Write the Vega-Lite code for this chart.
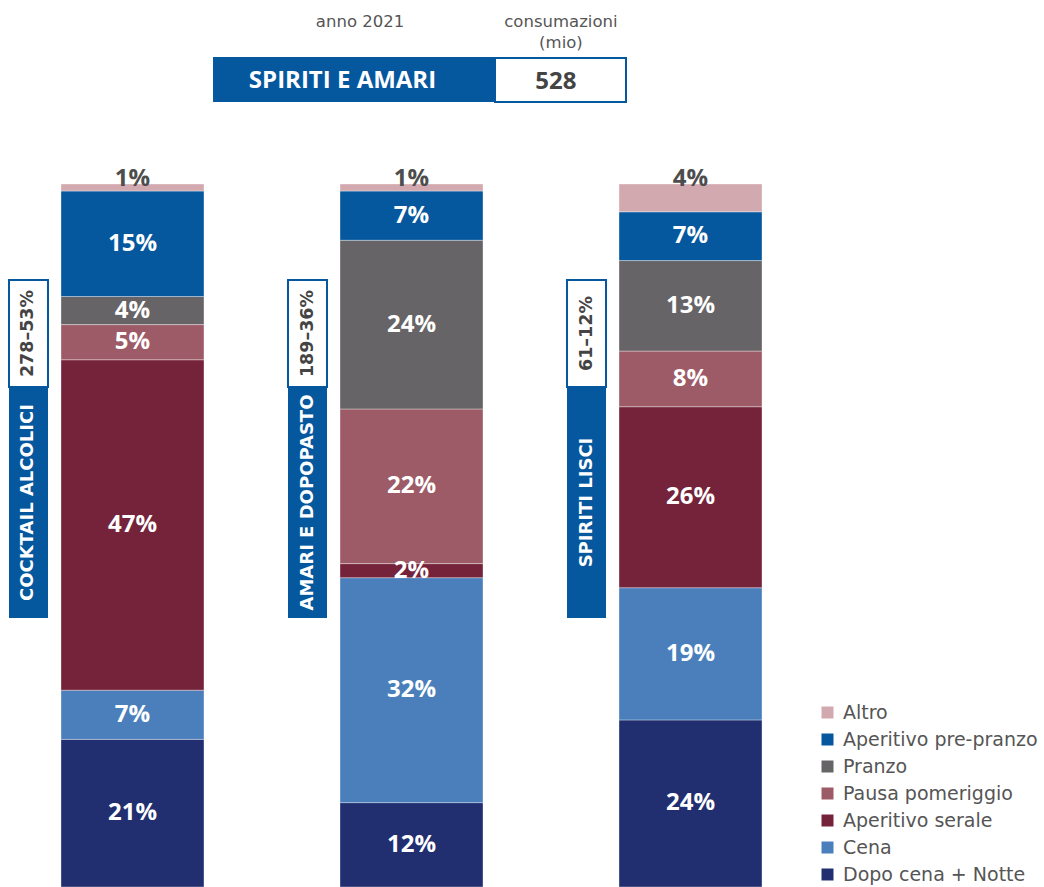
{
  "$schema": "https://vega.github.io/schema/vega-lite/v6.json",
  "autosize": {"type": "none"},
  "padding": {"left": 0, "top": 184, "right": 221, "bottom": 0},
  "width": 823,
  "height": 703,
  "background": "white",
  "config": {"view": {"stroke": null}, "font": "Open Sans"},
  "datasets": {
    "quote": [
      {"cat": "COCKTAIL ALCOLICI", "momento": "Dopo cena + Notte", "ord": 1, "v": 0.21},
      {"cat": "COCKTAIL ALCOLICI", "momento": "Cena", "ord": 2, "v": 0.07},
      {"cat": "COCKTAIL ALCOLICI", "momento": "Aperitivo serale", "ord": 3, "v": 0.47},
      {"cat": "COCKTAIL ALCOLICI", "momento": "Pausa pomeriggio", "ord": 4, "v": 0.05},
      {"cat": "COCKTAIL ALCOLICI", "momento": "Pranzo", "ord": 5, "v": 0.04},
      {"cat": "COCKTAIL ALCOLICI", "momento": "Aperitivo pre-pranzo", "ord": 6, "v": 0.15},
      {"cat": "COCKTAIL ALCOLICI", "momento": "Altro", "ord": 7, "v": 0.01},
      {"cat": "AMARI E DOPOPASTO", "momento": "Dopo cena + Notte", "ord": 1, "v": 0.12},
      {"cat": "AMARI E DOPOPASTO", "momento": "Cena", "ord": 2, "v": 0.32},
      {"cat": "AMARI E DOPOPASTO", "momento": "Aperitivo serale", "ord": 3, "v": 0.02},
      {"cat": "AMARI E DOPOPASTO", "momento": "Pausa pomeriggio", "ord": 4, "v": 0.22},
      {"cat": "AMARI E DOPOPASTO", "momento": "Pranzo", "ord": 5, "v": 0.24},
      {"cat": "AMARI E DOPOPASTO", "momento": "Aperitivo pre-pranzo", "ord": 6, "v": 0.07},
      {"cat": "AMARI E DOPOPASTO", "momento": "Altro", "ord": 7, "v": 0.01},
      {"cat": "SPIRITI LISCI", "momento": "Dopo cena + Notte", "ord": 1, "v": 0.24},
      {"cat": "SPIRITI LISCI", "momento": "Cena", "ord": 2, "v": 0.19},
      {"cat": "SPIRITI LISCI", "momento": "Aperitivo serale", "ord": 3, "v": 0.26},
      {"cat": "SPIRITI LISCI", "momento": "Pausa pomeriggio", "ord": 4, "v": 0.08},
      {"cat": "SPIRITI LISCI", "momento": "Pranzo", "ord": 5, "v": 0.13},
      {"cat": "SPIRITI LISCI", "momento": "Aperitivo pre-pranzo", "ord": 6, "v": 0.07},
      {"cat": "SPIRITI LISCI", "momento": "Altro", "ord": 7, "v": 0.04}
    ],
    "segmenti": [
      {"cat": "COCKTAIL ALCOLICI", "peso": "278–53%"},
      {"cat": "AMARI E DOPOPASTO", "peso": "189–36%"},
      {"cat": "SPIRITI LISCI", "peso": "61–12%"}
    ],
    "totale": [
      {"gruppo": "SPIRITI E AMARI", "consumazioni": 528, "anno": "anno 2021", "misura": "consumazioni\n(mio)"}
    ]
  },
  "encoding": {
    "x": {
      "field": "cat", "type": "nominal", "axis": null, "sort": null,
      "scale": {"domain": ["COCKTAIL ALCOLICI", "AMARI E DOPOPASTO", "SPIRITI LISCI"], "paddingInner": 0.4875, "paddingOuter": 0.2186}
    }
  },
  "layer": [
    {
      "data": {"name": "quote"},
      "transform": [
        {"stack": "v", "groupby": ["cat"], "sort": [{"field": "ord", "order": "ascending"}], "offset": "normalize", "as": ["y0", "y1"]},
        {"calculate": "(datum.y0 + datum.y1) / 2", "as": "ymid"}
      ],
      "layer": [
        {
          "mark": {"type": "bar", "stroke": "#ffffff", "strokeOpacity": 0.35, "strokeWidth": 1},
          "encoding": {
            "y": {"field": "y0", "type": "quantitative", "axis": null, "scale": {"domain": [0, 1], "nice": false, "zero": true}},
            "y2": {"field": "y1"},
            "color": {
              "field": "momento", "type": "nominal",
              "scale": {
                "domain": ["Altro", "Aperitivo pre-pranzo", "Pranzo", "Pausa pomeriggio", "Aperitivo serale", "Cena", "Dopo cena + Notte"],
                "range": ["#d3a9b0", "#05579e", "#666466", "#9d5b67", "#74233b", "#4a7fbc", "#212e6f"]
              },
              "legend": {
                "title": null, "orient": "none", "legendX": 818, "legendY": 519,
                "symbolType": "square", "symbolSize": 144, "symbolStrokeWidth": 0,
                "labelFont": "DejaVu Sans", "labelFontSize": 19, "labelColor": "#555555", "labelOffset": 6,
                "rowPadding": 7, "labelLimit": 300
              }
            }
          }
        },
        {
          "transform": [{"filter": "datum.momento !== 'Altro'"}],
          "mark": {"type": "text", "color": "white", "fontWeight": "bold", "fontSize": 24, "baseline": "middle", "align": "center"},
          "encoding": {
            "y": {"field": "ymid", "type": "quantitative"},
            "text": {"field": "v", "type": "quantitative", "format": ".0%"}
          }
        },
        {
          "transform": [{"filter": "datum.momento === 'Altro'"}],
          "mark": {"type": "text", "color": "#4d4d4d", "fontWeight": "bold", "fontSize": 24, "baseline": "alphabetic", "align": "center", "dy": 2},
          "encoding": {
            "y": {"field": "y1", "type": "quantitative"},
            "text": {"field": "v", "type": "quantitative", "format": ".0%"}
          }
        }
      ]
    },
    {
      "data": {"name": "segmenti"},
      "layer": [
        {
          "mark": {"type": "rect", "color": "#05579e"},
          "encoding": {
            "x": {"field": "cat", "type": "nominal", "bandPosition": -0.3636},
            "x2": {"field": "cat", "bandPosition": -0.0909},
            "y": {"datum": 0.3826, "type": "quantitative"},
            "y2": {"datum": 0.7112}
          }
        },
        {
          "mark": {"type": "rect", "fill": "white", "stroke": "#05579e", "strokeWidth": 2},
          "encoding": {
            "x": {"field": "cat", "type": "nominal", "bandPosition": -0.3636},
            "x2": {"field": "cat", "bandPosition": -0.0909},
            "y": {"datum": 0.7112, "type": "quantitative"},
            "y2": {"datum": 0.8634}
          }
        },
        {
          "mark": {"type": "text", "angle": 270, "color": "white", "font": "DejaVu Sans", "fontWeight": "bold", "fontSize": 18, "align": "center", "baseline": "middle"},
          "encoding": {
            "x": {"field": "cat", "type": "nominal", "bandPosition": -0.2273},
            "y": {"datum": 0.5469, "type": "quantitative"},
            "text": {"field": "cat"}
          }
        },
        {
          "mark": {"type": "text", "angle": 270, "color": "#444444", "font": "DejaVu Sans", "fontWeight": "bold", "fontSize": 17.5, "align": "center", "baseline": "middle"},
          "encoding": {
            "x": {"field": "cat", "type": "nominal", "bandPosition": -0.2273},
            "y": {"datum": 0.7873, "type": "quantitative"},
            "text": {"field": "peso"}
          }
        }
      ]
    },
    {
      "data": {"name": "totale"},
      "layer": [
        {
          "mark": {"type": "rect", "color": "#05579e"},
          "encoding": {
            "x": {"datum": "AMARI E DOPOPASTO", "type": "nominal", "bandPosition": -0.888},
            "x2": {"datum": "AMARI E DOPOPASTO", "bandPosition": 1.084},
            "y": {"datum": 1.1166, "type": "quantitative"},
            "y2": {"datum": 1.1807}
          }
        },
        {
          "mark": {"type": "rect", "fill": "white", "stroke": "#05579e", "strokeWidth": 2},
          "encoding": {
            "x": {"datum": "AMARI E DOPOPASTO", "type": "nominal", "bandPosition": 1.084},
            "x2": {"datum": "AMARI E DOPOPASTO", "bandPosition": 2.0},
            "y": {"datum": 1.1166, "type": "quantitative"},
            "y2": {"datum": 1.1793}
          }
        },
        {
          "mark": {"type": "text", "color": "white", "fontWeight": "bold", "fontSize": 24, "align": "center", "baseline": "alphabetic"},
          "encoding": {
            "x": {"datum": "AMARI E DOPOPASTO", "type": "nominal", "bandPosition": 0.0175},
            "y": {"datum": 1.1366, "type": "quantitative"},
            "text": {"field": "gruppo"}
          }
        },
        {
          "mark": {"type": "text", "color": "#444444", "fontWeight": "bold", "fontSize": 24, "align": "center", "baseline": "alphabetic"},
          "encoding": {
            "x": {"datum": "AMARI E DOPOPASTO", "type": "nominal", "bandPosition": 1.51},
            "y": {"datum": 1.1351, "type": "quantitative"},
            "text": {"field": "consumazioni"}
          }
        },
        {
          "mark": {"type": "text", "color": "#555555", "font": "DejaVu Sans", "fontSize": 16.5, "align": "center", "baseline": "alphabetic"},
          "encoding": {
            "x": {"datum": "AMARI E DOPOPASTO", "type": "nominal", "bandPosition": 0.14},
            "y": {"datum": 1.2233, "type": "quantitative"},
            "text": {"field": "anno"}
          }
        },
        {
          "mark": {"type": "text", "color": "#555555", "font": "DejaVu Sans", "fontSize": 16.5, "align": "center", "baseline": "alphabetic", "lineBreak": "\n", "lineHeight": 21},
          "encoding": {
            "x": {"datum": "AMARI E DOPOPASTO", "type": "nominal", "bandPosition": 1.545},
            "y": {"datum": 1.2233, "type": "quantitative"},
            "text": {"field": "misura"}
          }
        }
      ]
    }
  ]
}
